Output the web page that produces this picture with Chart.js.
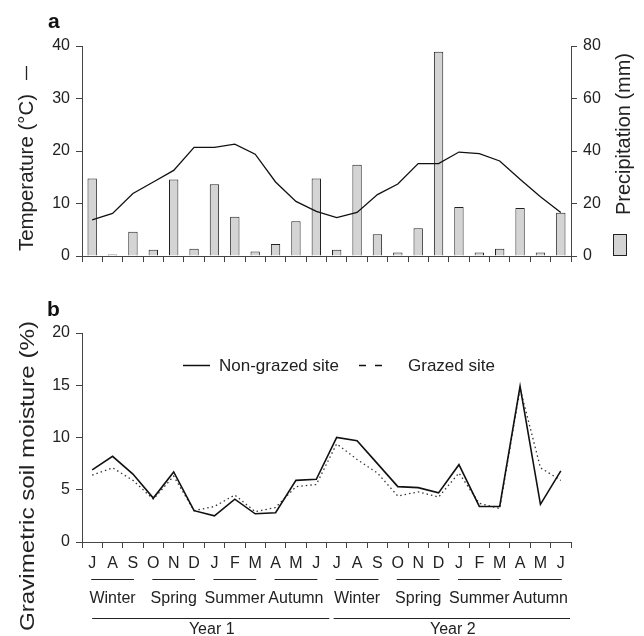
<!DOCTYPE html>
<html lang="en">
<head>
  <meta charset="UTF-8">
  <title>Temperature, precipitation and soil moisture</title>
  <script src="https://cdn.jsdelivr.net/npm/chart.js"></script>
  <style>
    body {
      margin: 0;
      background: #fff;
    }
    .panel {
      position: absolute;
      left: 0;
      width: 644px;
    }
    #panelA { top: 0; height: 300px; }
    #panelB { top: 290px; height: 346px; }
  </style>
</head>
<body>
<div class="panel" id="panelA"><canvas id="chartA"></canvas></div>
<div class="panel" id="panelB"><canvas id="chartB"></canvas></div>

<script>
  // Months from July of year 1 to June of year 2
  const months = ["J", "A", "S", "O", "N", "D", "J", "F", "M", "A", "M", "J",
                  "J", "A", "S", "O", "N", "D", "J", "F", "M", "A", "M", "J"];
  const seasons = ["Winter", "Spring", "Summer", "Autumn"];
  const years = ["Year 1", "Year 2"];

  // Panel a
  const temperature = [6.9, 8.1, 11.9, 14.1, 16.3, 20.7, 20.7, 21.3, 19.4, 14.1, 10.4, 8.5,
                       7.3, 8.3, 11.7, 13.7, 17.6, 17.6, 19.8, 19.5, 18.1, 14.6, 11.3, 8.3];
  const precipitation = [29.5, 0.6, 9.2, 2.4, 29.1, 2.8, 27.3, 15.0, 1.7, 4.6, 13.2, 29.5,
                         2.4, 34.8, 8.3, 1.3, 10.6, 77.8, 18.7, 1.3, 2.8, 18.3, 1.3, 16.5];

  // Panel b
  const nonGrazed = [6.9, 8.2, 6.5, 4.2, 6.7, 3.0, 2.5, 4.1, 2.7, 2.8, 5.9, 6.0,
                     10.0, 9.7, 7.5, 5.3, 5.2, 4.7, 7.4, 3.4, 3.4, 14.9, 3.6, 6.8];
  const grazed = [6.4, 7.1, 5.9, 4.1, 6.3, 3.0, 3.4, 4.5, 2.9, 3.3, 5.3, 5.5,
                  9.4, 7.9, 6.6, 4.4, 4.8, 4.3, 6.6, 3.7, 3.2, 14.7, 7.1, 5.9];

  const FONT = "'Liberation Sans', Arial, sans-serif";
  const INK = "#222";
  const AXIS = "#444";

  Chart.defaults.font.family = FONT;
  Chart.defaults.color = INK;
  Chart.defaults.animation = false;

  // rotated title, stretched to span from yBottom up to yTop
  function vertText(ctx, text, cx, yBottom, yTop) {
    ctx.save();
    ctx.font = "20px " + FONT;
    ctx.fillStyle = INK;
    ctx.textAlign = "left";
    ctx.textBaseline = "middle";
    const w = ctx.measureText(text).width;
    ctx.translate(cx, yBottom);
    ctx.rotate(-Math.PI / 2);
    ctx.scale((yBottom - yTop) / w, 1);
    ctx.fillText(text, 0, 0);
    ctx.restore();
  }

  function panelLetter(ctx, letter, x, y) {
    ctx.save();
    ctx.font = "bold 21px " + FONT;
    ctx.fillStyle = "#111";
    ctx.textAlign = "left";
    ctx.textBaseline = "alphabetic";
    ctx.fillText(letter, x, y);
    ctx.restore();
  }

  function axisStyle(extra) {
    return Object.assign({
      border: { display: true, color: AXIS, width: 1 },
      grid: { display: true, drawOnChartArea: false, drawTicks: true, tickLength: 6, color: AXIS }
    }, extra);
  }

  const decorA = {
    id: "decorA",
    afterDraw(chart) {
      const ctx = chart.ctx;
      panelLetter(ctx, "a", 48, 28);
      vertText(ctx, "Temperature (°C)", 27, 251, 94);
      ctx.save();
      ctx.strokeStyle = INK;
      ctx.lineWidth = 1.3;
      ctx.beginPath();
      ctx.moveTo(26.5, 66);
      ctx.lineTo(26.5, 80);
      ctx.stroke();
      ctx.restore();
      vertText(ctx, "Precipitation (mm)", 624, 215, 53);
      ctx.save();
      ctx.fillStyle = "#d4d4d4";
      ctx.strokeStyle = "#222";
      ctx.lineWidth = 1;
      ctx.fillRect(613.5, 234.5, 13, 21);
      ctx.strokeRect(613.5, 234.5, 13, 21);
      ctx.restore();
    }
  };

  new Chart(document.getElementById("chartA"), {
    type: "bar",
    data: {
      labels: months,
      datasets: [
        {
          type: "line",
          label: "Temperature",
          data: temperature,
          yAxisID: "y",
          borderColor: "#111",
          borderWidth: 1.3,
          pointRadius: 0,
          tension: 0,
          order: 0
        },
        {
          label: "Precipitation",
          data: precipitation,
          yAxisID: "y2",
          backgroundColor: "#d4d4d4",
          borderColor: "#222",
          borderWidth: 1,
          barPercentage: 0.46,
          categoryPercentage: 1,
          order: 1
        }
      ]
    },
    options: {
      responsive: true,
      maintainAspectRatio: false,
      layout: { padding: { top: 46, left: 0, right: 0, bottom: 0 } },
      plugins: { legend: { display: false }, tooltip: { enabled: false } },
      scales: {
        x: axisStyle({
          offset: true,
          ticks: { display: false },
          afterFit(scale) { scale.height = 44; }
        }),
        y: axisStyle({
          position: "left",
          min: 0, max: 40,
          ticks: { stepSize: 10, padding: 6, font: { size: 16 } },
          afterFit(scale) { scale.width = 82; }
        }),
        y2: axisStyle({
          position: "right",
          min: 0, max: 80,
          ticks: { stepSize: 20, padding: 6, font: { size: 16 } },
          afterFit(scale) { scale.width = 73; }
        })
      }
    },
    plugins: [decorA]
  });

  const decorB = {
    id: "decorB",
    afterDraw(chart) {
      const ctx = chart.ctx;
      const x = chart.scales.x;
      panelLetter(ctx, "b", 47, 26);
      vertText(ctx, "Gravimetric soil moisture (%)", 28, 341, 31);

      // legend
      ctx.save();
      ctx.strokeStyle = "#111";
      ctx.lineWidth = 1.5;
      ctx.beginPath();
      ctx.moveTo(183, 75.5);
      ctx.lineTo(210, 75.5);
      ctx.moveTo(359, 75.5);
      ctx.lineTo(366, 75.5);
      ctx.moveTo(375, 75.5);
      ctx.lineTo(382, 75.5);
      ctx.stroke();
      ctx.font = "17px " + FONT;
      ctx.fillStyle = INK;
      ctx.textBaseline = "middle";
      ctx.textAlign = "left";
      ctx.fillText("Non-grazed site", 219, 76);
      ctx.fillText("Grazed site", 408, 76);

      // seasons and years under the month letters
      ctx.font = "16px " + FONT;
      ctx.lineWidth = 1.2;
      ctx.strokeStyle = "#222";
      ctx.textAlign = "center";
      for (let k = 0; k < 8; k++) {
        const a = x.getPixelForValue(k * 3);
        const b = x.getPixelForValue(k * 3 + 2);
        ctx.beginPath();
        ctx.moveTo(a - 1, 289.5);
        ctx.lineTo(b + 1, 289.5);
        ctx.stroke();
        ctx.fillText(seasons[k % 4], x.getPixelForValue(k * 3 + 1), 309);
      }
      for (let y = 0; y < 2; y++) {
        const a = y === 0 ? x.getPixelForValue(0) : x.getPixelForValue(12) - 3;
        const b = y === 0 ? x.getPixelForValue(11) + 13 : x.right - 1;
        ctx.beginPath();
        ctx.moveTo(a, 328.5);
        ctx.lineTo(b, 328.5);
        ctx.stroke();
        ctx.fillText(years[y], (a + b) / 2 + 1, 340);
      }
      ctx.restore();
    }
  };

  new Chart(document.getElementById("chartB"), {
    type: "line",
    data: {
      labels: months,
      datasets: [
        {
          label: "Non-grazed site",
          data: nonGrazed,
          borderColor: "#111",
          borderWidth: 1.6,
          pointRadius: 0,
          tension: 0
        },
        {
          label: "Grazed site",
          data: grazed,
          borderColor: "#333",
          borderWidth: 1.3,
          borderDash: [1.5, 3],
          pointRadius: 0,
          tension: 0
        }
      ]
    },
    options: {
      responsive: true,
      maintainAspectRatio: false,
      layout: { padding: { top: 43, left: 0, right: 73, bottom: 0 } },
      plugins: { legend: { display: false }, tooltip: { enabled: false } },
      scales: {
        x: axisStyle({
          offset: true,
          grid: { display: true, offset: true, drawOnChartArea: false, drawTicks: true, tickLength: 6, color: AXIS },
          ticks: { padding: 6, font: { size: 16 }, maxRotation: 0, autoSkip: false },
          afterFit(scale) { scale.height = 94; }
        }),
        y: axisStyle({
          min: 0, max: 20,
          ticks: { stepSize: 5, padding: 6, font: { size: 16 } },
          afterFit(scale) { scale.width = 82; }
        })
      }
    },
    plugins: [decorB]
  });
</script>
</body>
</html>
